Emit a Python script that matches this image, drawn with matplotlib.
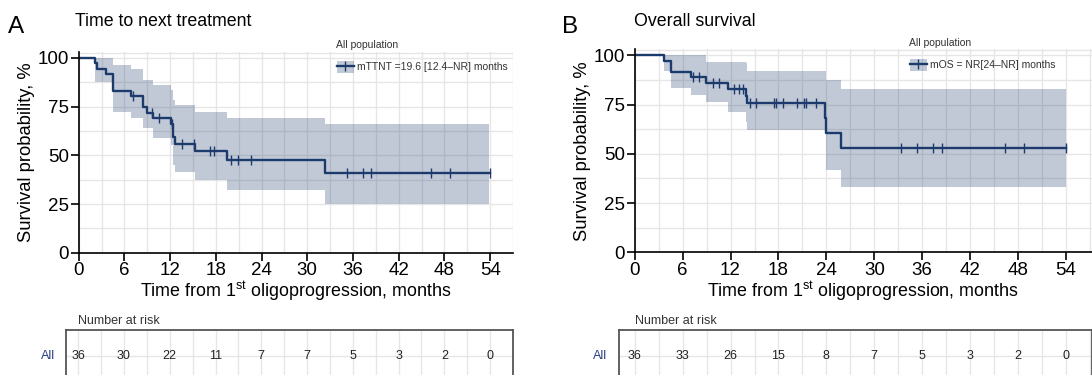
import numpy as np
import matplotlib
matplotlib.use("Agg")
import matplotlib.pyplot as plt
from matplotlib.patches import Patch
from matplotlib.lines import Line2D
from matplotlib.legend_handler import HandlerTuple

plt.rcParams['font.family'] = ['Liberation Sans', 'DejaVu Sans']
plt.rcParams['mathtext.fontset'] = 'custom'
plt.rcParams['mathtext.rm'] = 'Liberation Sans'

# --- datos ---
# A: tiempo hasta el siguiente tratamiento
ttnt_t = [0, 2.2, 2.4, 3.6, 4.5, 6.9, 8.4, 8.9, 9.8, 12.1, 12.4, 12.6, 15.2, 19.5, 32.3]
ttnt_s = [100, 97.2, 94.4, 91.7, 83.3, 80.6, 74.8, 72.0, 69.0, 65.9, 59.3, 56.0, 52.3, 47.5, 40.7]
ttnt_cens = [7.1, 9.6, 10.6, 12.25, 13.6, 15.1, 17.2, 17.7, 20.0, 20.9, 22.6,
             35.2, 37.3, 38.4, 46.3, 48.7, 54.0]
ttnt_ci_t = [0, 2.2, 4.5, 6.9, 8.4, 9.8, 12.1, 12.4, 12.6, 15.2, 19.5, 32.3, 53.8]
ttnt_ci_hi = [100, 100, 96.2, 94.5, 88.7, 86.1, 83.5, 78.5, 75.9, 72.4, 69.3, 66.1, 66.1]
ttnt_ci_lo = [100, 87.8, 72.4, 69.0, 63.9, 59.0, 55.3, 45.0, 41.6, 37.3, 32.2, 24.8, 24.8]
ttnt_risk = [36, 30, 22, 11, 7, 7, 5, 3, 2, 0]

# B: supervivencia global
os_t = [0, 3.7, 4.6, 7.1, 8.9, 11.7, 13.9, 14.1, 23.8, 24.0, 25.8]
os_s = [100, 97.2, 91.7, 88.9, 86.0, 83.0, 79.3, 75.7, 68.1, 60.5, 52.9]
os_cens = [7.3, 8.0, 9.8, 10.6, 12.4, 13.0, 13.6, 14.4, 15.2, 17.4, 17.7, 18.6, 20.3,
           21.2, 21.5, 22.7, 33.3, 35.3, 37.4, 38.5, 46.4, 48.7, 54.0]
os_ci_t = [0, 3.7, 4.6, 7.1, 8.9, 11.7, 13.9, 14.1, 24.0, 25.8, 54.0]
os_ci_hi = [100, 100, 100, 100, 96.8, 96.8, 96.0, 92.2, 87.5, 83.1, 83.1]
os_ci_lo = [100, 92.0, 83.2, 80.0, 76.5, 71.0, 66.0, 62.2, 41.8, 33.3, 33.3]
os_risk = [36, 33, 26, 15, 8, 7, 5, 3, 2, 0]

risk_times = [0, 6, 12, 18, 24, 30, 36, 42, 48, 54]

NAVY = '#1d3a6c'
GRID = '#e6e6e6'
W, H = 1092, 375


def rect(x0, y0, x1, y1):
    # pixeles -> fraccion de figura
    return [x0 / W, 1 - y1 / H, (x1 - x0) / W, (y1 - y0) / H]


def km_panel(ax, t, s, cens, ci_t, ci_hi, ci_lo, xmax):
    ax.set_axisbelow(True)
    ax.fill_between(ci_t, ci_lo, ci_hi, step='post', color=NAVY, alpha=0.27, lw=0)
    tt = list(t) + [54.0]
    ss = list(s) + [s[-1]]
    ax.plot(tt, ss, drawstyle='steps-post', color=NAVY, lw=1.7)
    idx = np.searchsorted(t, cens, side='right') - 1
    ax.plot(cens, np.array(s)[idx], ls='none', marker='|', ms=7, mew=1.0, color=NAVY)

    ax.set_xlim(0, xmax)
    ax.set_ylim(0, 103)
    ax.set_xticks(range(0, 55, 6))
    ax.set_xticks(range(3, 58, 3), minor=True)
    ax.set_yticks([0, 25, 50, 75, 100])
    ax.set_yticks([12.5, 37.5, 62.5, 87.5, 102.5], minor=True)
    ax.grid(True, which='both', color=GRID, lw=1.0)
    for sp in ['top', 'right']:
        ax.spines[sp].set_visible(False)
    for sp in ['left', 'bottom']:
        ax.spines[sp].set_linewidth(1.2)
    ax.tick_params(which='major', length=6, width=1.2, labelsize=13.5, pad=1)
    ax.tick_params(which='minor', length=0)
    ax.set_ylabel('Survival probability, %', fontsize=13.2, labelpad=2)
    ax.set_xlabel(r'Time from 1$^{\mathrm{st}}$ oligoprogression, months', fontsize=12.9, labelpad=0)

    handle = (Patch(facecolor=NAVY, alpha=0.27, lw=0),
              Line2D([], [], color=NAVY, lw=1.7, marker='|', ms=7, mew=1.0))
    return handle


def risk_table(ax, counts, xmin, xmax):
    ax.set_xlim(xmin, xmax)
    ax.set_ylim(0, 1)
    ax.set_xticks(range(0, 58, 3))
    ax.set_yticks([0.5])
    ax.grid(True, color=GRID, lw=1.0)
    ax.tick_params(length=0, labelbottom=False, labelleft=False)
    ax.spines['bottom'].set_visible(False)
    for sp in ['left', 'top', 'right']:
        ax.spines[sp].set_color('#555555')
        ax.spines[sp].set_linewidth(1.3)
    for x, n in zip(risk_times, counts):
        ax.text(x, 0.5, str(n), ha='center', va='center', fontsize=9, color='#222222')
    ax.text(0, 1.06, 'Number at risk', transform=ax.get_xaxis_transform(),
            ha='left', va='bottom', fontsize=9, color='#333333')
    ax.text(-0.025, 0.5, 'All', transform=ax.transAxes, ha='right', va='center',
            fontsize=9, color='#2b3f86')


fig = plt.figure(figsize=(W / 100, H / 100), dpi=100)

# panel A
axA = fig.add_axes(rect(78.7, 252.7 - 103 * 1.947, 513, 252.7))
hA = km_panel(axA, ttnt_t, ttnt_s, ttnt_cens, ttnt_ci_t, ttnt_ci_hi, ttnt_ci_lo, 55.15)
tabA = fig.add_axes(rect(66, 330, 513, 382))
risk_table(tabA, ttnt_risk, -1.6, 55.15)

# panel B
axB = fig.add_axes(rect(634.7, 252.3 - 103 * 1.97, 1092, 252.3))
hB = km_panel(axB, os_t, os_s, os_cens, os_ci_t, os_ci_hi, os_ci_lo, 57.25)
tabB = fig.add_axes(rect(619.3, 330, 1092, 382))
risk_table(tabB, os_risk, -1.93, 57.25)

# titulos
fig.text(8 / W, 1 - 27 / H, 'A', fontsize=17.5, va='center', ha='left')
fig.text(75 / W, 1 - 21 / H, 'Time to next treatment', fontsize=12.8, va='center', ha='left')
fig.text(562 / W, 1 - 27 / H, 'B', fontsize=17.5, va='center', ha='left')
fig.text(634 / W, 1 - 21 / H, 'Overall survival', fontsize=12.8, va='center', ha='left')

# leyendas
for h, lab, x_t, y_t, x_l, y_l in [
        (hA, 'mTTNT =19.6 [12.4\u2013NR] months', 336, 45.5, 337, 67),
        (hB, 'mOS = NR[24\u2013NR] months', 909, 43.5, 910, 65)]:
    fig.text(x_t / W, 1 - y_t / H, 'All population', fontsize=7.5, va='center', ha='left',
             color='#333333')
    fig.legend([h], [lab], handler_map={tuple: HandlerTuple(ndivide=1, pad=0)},
               loc='center left', bbox_to_anchor=(x_l / W, 1 - y_l / H),
               bbox_transform=fig.transFigure, frameon=False, borderpad=0,
               borderaxespad=0, handlelength=1.6, handleheight=1.3,
               handletextpad=0.3, fontsize=7.5, labelcolor='#333333')

fig.savefig('out.png', dpi=100)
